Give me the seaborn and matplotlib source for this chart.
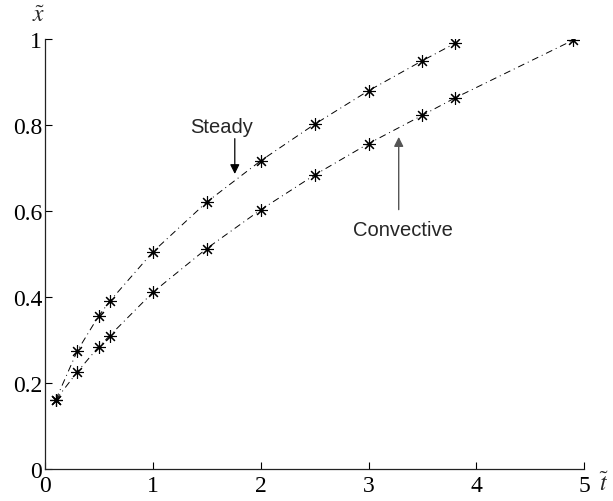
import numpy as np
import matplotlib
matplotlib.use("Agg")
import matplotlib.pyplot as plt
import seaborn as sns

# data
t_steady = [0.1, 0.3, 0.5, 0.6, 1.0, 1.5, 2.0, 2.5, 3.0, 3.5, 3.8]
x_steady = [0.161, 0.275, 0.357, 0.390, 0.505, 0.621, 0.717, 0.802, 0.880, 0.950, 0.990]

t_conv = [0.1, 0.3, 0.5, 0.6, 1.0, 1.5, 2.0, 2.5, 3.0, 3.5, 3.8, 4.9]
x_conv = [0.161, 0.226, 0.285, 0.310, 0.411, 0.513, 0.603, 0.684, 0.757, 0.823, 0.863, 0.998]

xticks = [0, 1, 2, 3, 4, 5]
yticks = [0, 0.2, 0.4, 0.6, 0.8, 1]
ytick_labels = ["0", "0.2", "0.4", "0.6", "0.8", "1"]

sns.set_style("ticks")
plt.rcParams["font.family"] = ["Liberation Serif", "DejaVu Serif"]
plt.rcParams["mathtext.fontset"] = "stix"

fig = plt.figure(figsize=(6.13, 5.02), dpi=100)
ax = fig.add_axes([0.0734, 0.0637, 0.8796, 0.8563])

line_style = dict(color="black", linewidth=0.7, linestyle=(0, (7, 4, 1, 4)),
                  marker=(8, 2, 0), markersize=9, markeredgewidth=0.8,
                  markeredgecolor="black")
sns.lineplot(x=t_steady, y=x_steady, ax=ax, **line_style)
sns.lineplot(x=t_conv, y=x_conv, ax=ax, **line_style)

ax.set_xlim(0, 5)
ax.set_ylim(0, 1)
ax.set_xticks(xticks)
ax.set_xticklabels([str(v) for v in xticks])
ax.set_yticks(yticks)
ax.set_yticklabels(ytick_labels)
ax.tick_params(direction="in", length=5, width=0.8, labelsize=17, colors="black")
ax.tick_params(axis="x", pad=4)
ax.tick_params(axis="y", pad=2)
for side in ["top", "right"]:
    ax.spines[side].set_visible(False)
for side in ["left", "bottom"]:
    ax.spines[side].set_linewidth(0.9)
    ax.spines[side].set_color("#222222")

# axis labels placed at the ends of the axes
ax.text(-0.012, 1.055, r"$\tilde{x}$", transform=ax.transAxes, fontsize=17,
        ha="center", va="center")
ax.text(1.037, -0.033, r"$\tilde{t}$", transform=ax.transAxes, fontsize=17,
        ha="center", va="center")

arrow = dict(arrowstyle="-|>", color="black", lw=0.9, mutation_scale=14)
ax.annotate("", xy=(1.76, 0.68), xytext=(1.76, 0.775), arrowprops=arrow)
ax.text(1.64, 0.796, "Steady", fontsize=14.5, family="Liberation Sans",
        ha="center", va="center")
ax.annotate("", xy=(3.28, 0.779), xytext=(3.28, 0.597),
            arrowprops=dict(arrowstyle="-|>", color="#555555", lw=1.0, mutation_scale=14))
ax.text(3.32, 0.558, "Convective", fontsize=14.5, family="Liberation Sans",
        ha="center", va="center")

fig.savefig("out.png", dpi=100)
